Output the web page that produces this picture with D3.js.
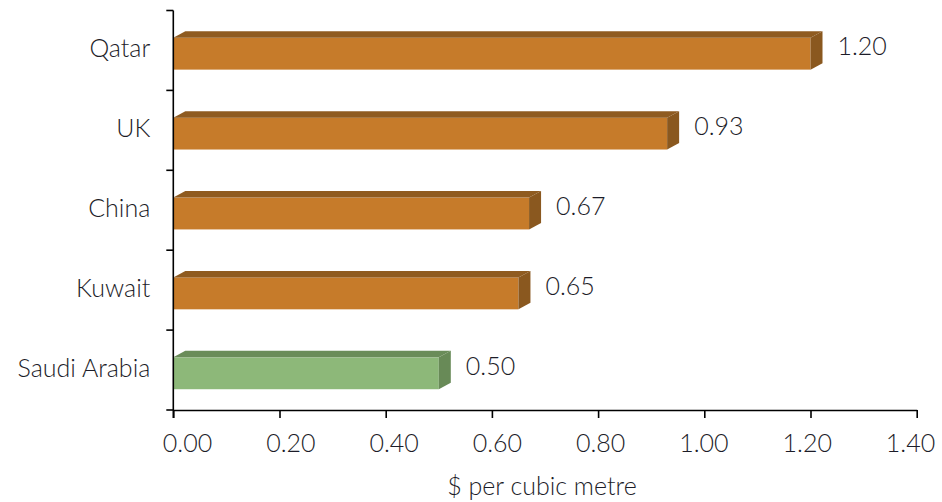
<!DOCTYPE html>
<html>
<head>
<meta charset="utf-8">
<script src="https://cdn.jsdelivr.net/npm/d3@7"></script>
<style>
  html, body { margin: 0; padding: 0; background: #fff; }
  svg text { font-family: Lato, "Noto Sans", sans-serif; font-weight: 300; fill: #1c1c28; }
</style>
</head>
<body>
<svg id="chart" width="942" height="502"></svg>
<script>
// Water price by country, $ per cubic metre
const countries = ["Qatar", "UK", "China", "Kuwait", "Saudi Arabia"];
const prices = [1.20, 0.93, 0.67, 0.65, 0.50];
const highlighted = ["Saudi Arabia"];
const xTicks = [0, 0.2, 0.4, 0.6, 0.8, 1.0, 1.2, 1.4];
const axisTitle = "$ per cubic metre";

const rows = countries.map((c, i) => ({ country: c, value: prices[i] }));

const svg = d3.select("#chart");
const fontSize = 25;

const plotLeft = 173.3, plotRight = 916.7, plotTop = 10.5, plotBottom = 410;
const x = d3.scaleLinear().domain([0, 1.4]).range([plotLeft, plotRight]);
// tick labels sit slightly inset toward the centre of the axis
const xLabel = d3.scaleLinear().domain([0, 1.4]).range([187, 910]);
const y = d3.scaleBand().domain(countries).range([plotTop, plotBottom])
  .paddingInner(0.52).paddingOuter(0.26);

// extrusion of the 3-D bars
const dx = 12, dy = 6.5;

const palette = {
  normal: { front: "#c67b2a", top: "#8f5b20", side: "#8a581f" },
  accent: { front: "#8db879", top: "#6a8c59", side: "#688a57" }
};

const bars = svg.append("g").selectAll("g").data(rows).join("g");

bars.each(function (d) {
  const g = d3.select(this);
  const c = highlighted.includes(d.country) ? palette.accent : palette.normal;
  const y0 = y(d.country), bw = y.bandwidth();
  const x0 = x(0), xv = x(d.value);
  // front face
  g.append("rect")
    .attr("x", x0).attr("y", y0 + dy)
    .attr("width", xv - x0).attr("height", bw - dy)
    .attr("fill", c.front);
  // top face
  g.append("path")
    .attr("d", `M${x0},${y0 + dy}L${x0 + dx},${y0}L${xv + dx},${y0}L${xv},${y0 + dy}Z`)
    .attr("fill", c.top);
  // side face
  g.append("path")
    .attr("d", `M${xv},${y0 + dy}L${xv + dx},${y0}L${xv + dx},${y0 + bw - dy}L${xv},${y0 + bw}Z`)
    .attr("fill", c.side);
  // value label
  g.append("text")
    .attr("x", xv + dx + 15)
    .attr("y", y0 + bw / 2 + 4.5)
    .attr("font-size", fontSize)
    .text(d3.format(".2f")(d.value));
});

// value axis
const xAxis = svg.append("g")
  .attr("transform", `translate(0,${plotBottom})`)
  .call(d3.axisBottom(x).tickValues(xTicks).tickFormat(d3.format(".2f"))
    .tickSizeInner(8).tickSizeOuter(0).tickPadding(16));
xAxis.select(".domain").attr("stroke", "#000").attr("stroke-width", 1.6);
xAxis.selectAll(".tick line").attr("stroke", "#000").attr("stroke-width", 1.6);
xAxis.selectAll(".tick text")
  .attr("font-size", fontSize)
  .attr("dy", null)
  .attr("y", 42)
  .attr("x", d => xLabel(d) - x(d));
xAxis.attr("font-family", null).attr("font-size", null);

// category axis with ticks between bands
const yAxis = svg.append("g").attr("transform", `translate(${plotLeft},0)`);
yAxis.append("line")
  .attr("x1", 0).attr("x2", 0).attr("y1", plotTop).attr("y2", plotBottom + 8)
  .attr("stroke", "#000").attr("stroke-width", 1.6);
const step = y.step();
const bounds = d3.range(countries.length + 1).map(i => plotTop + i * step);
yAxis.selectAll("line.tk").data(bounds).join("line")
  .attr("class", "tk")
  .attr("x1", -7).attr("x2", 0)
  .attr("y1", d => d).attr("y2", d => d)
  .attr("stroke", "#000").attr("stroke-width", 1.6);
yAxis.selectAll("text").data(countries).join("text")
  .attr("x", -23)
  .attr("y", d => y(d) + y.bandwidth() / 2 + 7)
  .attr("text-anchor", "end")
  .attr("font-size", fontSize)
  .text(d => d);

// axis title
svg.append("text")
  .attr("x", (plotLeft + plotRight) / 2 - 3)
  .attr("y", 495)
  .attr("text-anchor", "middle")
  .attr("font-size", fontSize)
  .text(axisTitle);
</script>
</body>
</html>
